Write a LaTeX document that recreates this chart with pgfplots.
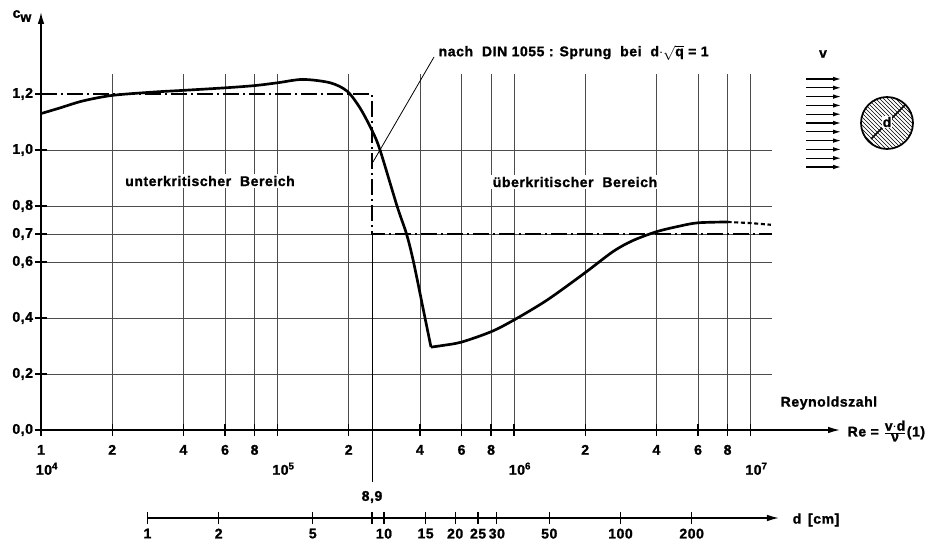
\documentclass[border=0pt]{standalone}
\usepackage{fontspec}
\setmainfont[FakeBold=1.3, LetterSpace=4]{Liberation Sans}
\usepackage{pgfplots}
\pgfplotsset{compat=1.18}
\usetikzlibrary{arrows.meta,patterns}
\newcommand{\lf}{\fontsize{10.5}{15}\selectfont\bfseries}
\begin{document}
\begin{tikzpicture}
\path[use as bounding box] (-30.75pt,-84.75pt) rectangle (669.75pt,322.5pt);
\begin{axis}[
  at={(0,0)}, anchor=south west,
  scale only axis, width=548.25pt, height=267pt,
  xmode=log, xmin=1e4, xmax=1.233e7, ymin=0, ymax=1.2714,
  axis x line=bottom, axis y line=left,
  axis line style={-, line width=1.1pt},
  xtick={1e4,2e4,4e4,6e4,8e4,1e5,2e5,4e5,6e5,8e5,1e6,2e6,4e6,6e6,8e6,1e7},
  xticklabels={{\strut 1\\\hspace*{9pt}10\textsuperscript{4}},\strut 2,\strut 4,\strut 6,\strut 8,{\strut\\\hspace*{9pt}10\textsuperscript{5}},\strut 2,\strut 4,\strut 6,\strut 8,{\strut\\\hspace*{9pt}10\textsuperscript{6}},\strut 2,\strut 4,\strut 6,\strut 8,{\strut\\\hspace*{9pt}10\textsuperscript{7}}},
  xticklabel style={align=center, anchor=north},
  ytick={0,0.2,0.4,0.6,0.7,0.8,1.0},
  yticklabels={{0,0},{0,2},{0,4},{0,6},{0,7},{0,8},{1,0}},
  yticklabel style={xshift=2pt},
  extra y ticks={1.2}, extra y tick labels={1{,}2},
  extra y tick style={grid=none},
  tick label style={font=\lf},
  xminorticks=false,
  grid=major, major grid style={black!70, line width=0.45pt},
  tick align=center, major tick length=9pt,
  tick style={black, line width=1pt},
  clip=false,
]
% DIN 1055 step
\addplot[black, line width=1.8pt, dash pattern=on 12pt off 3pt on 1.5pt off 3pt, sharp plot]
  coordinates {(1e4,1.2) (2.51e5,1.2) (2.51e5,0.7) (1.233e7,0.7)};
% measured curve, subcritical
\addplot[black, line width=2pt, smooth, tension=0.5]
  coordinates {(1e4,1.13) (1.2e4,1.15) (1.5e4,1.175) (2e4,1.195) (3e4,1.207) (4e4,1.213)
  (6e4,1.222) (8e4,1.23) (1e5,1.24) (1.28e5,1.252) (1.67e5,1.24) (1.97e5,1.21) (2.233e5,1.15)
  (2.509e5,1.07) (2.713e5,1.0) (3.202e5,0.8) (3.512e5,0.70)
  (3.76e5,0.6) (4.205e5,0.4) (4.457e5,0.296)};
% supercritical
\addplot[black, line width=2pt, smooth, tension=0.5]
  coordinates {(4.457e5,0.296) (5e5,0.302) (6e5,0.314) (8e5,0.351) (1e6,0.393) (1.38e6,0.464)
  (2e6,0.562) (2.62e6,0.637) (3.17e6,0.676) (4e6,0.708) (5e6,0.728) (6e6,0.74) (8e6,0.743)};
\addplot[black, line width=1.6pt, dash pattern=on 3pt off 2pt]
  coordinates {(8e6,0.743) (1e7,0.739) (1.22e7,0.733)};
% 8,9 cm marker line
\draw[black, line width=0.6pt] (axis cs:2.51e5,0.7) -- ([yshift=-39pt]axis cs:2.51e5,0);
\end{axis}
% d scale
\begin{axis}[
  at={(79.875pt,-66pt)}, anchor=south west,
  scale only axis, width=473.6pt, height=1pt,
  xmode=log, xmin=1, xmax=468, ymin=0, ymax=1,
  axis x line=bottom, hide y axis,
  axis line style={line width=1.1pt, -{Latex[length=9pt,width=5pt]}},
  xtick={1,2,5,8.9,10,15,20,25,30,50,100,200},
  xticklabels={1,2,5,,10,15,20,25,30,50,100,200},
  tick label style={font=\lf},
  xminorticks=false,
  tick align=center, major tick length=9pt,
  tick style={black, line width=1pt},
]
\end{axis}
\begin{scope}[x=0.75pt, y=-0.75pt, shift={(-30.75pt,322.5pt)}]
  \draw[line width=1.1pt, -{Latex[length=9pt,width=5pt]}] (41,74) -- (41,12);
  \draw[line width=1.1pt, -{Latex[length=9pt,width=5pt]}] (772,430) -- (840,430);
  \node[font=\lf] at (22,16) {c\raisebox{-3pt}{w}};
  \node[font=\lf, anchor=west] at (776,403) {Reynoldszahl};
  \node[font=\lf, anchor=west] at (843,431) {Re = $\frac{\mbox{\lf v$\cdot$d}}{\mbox{\lf ν}}$(1)};
  \node[font=\lf, anchor=west] at (788,520) {d\, [cm]};
  \node[font=\lf] at (372,497) {8,9};
  \node[font=\lf, fill=white, inner sep=1.5pt] at (210,181) {unterkritischer\ \ Bereich};
  \node[font=\lf, fill=white, inner sep=1.5pt] at (575,182) {überkritischer\ \ Bereich};
  \node[font=\lf, anchor=west] at (434,53) {nach\ \ DIN 1055 : Sprung\ \ bei\ \ d$\cdot\sqrt{\mbox{\lf q}}$ = 1};
  \draw[line width=0.6pt] (373,162) -- (434,57);
  \node[font=\lf] at (823,54) {v};
  \foreach \i in {0,...,10} {
    \draw[line width=0.9pt, -{Latex[length=6pt,width=3.5pt]}] (806,79+8.8*\i) -- (841,79+8.8*\i);
  }
  \draw[line width=1.3pt, pattern=north west lines] (887,123) circle[radius=19.5pt];
  \draw[line width=1.3pt] (871,139) -- (905,105);
  \node[font=\lf, fill=white, inner sep=0.8pt] at (887,122) {d};
\end{scope}
\end{tikzpicture}
\end{document}
